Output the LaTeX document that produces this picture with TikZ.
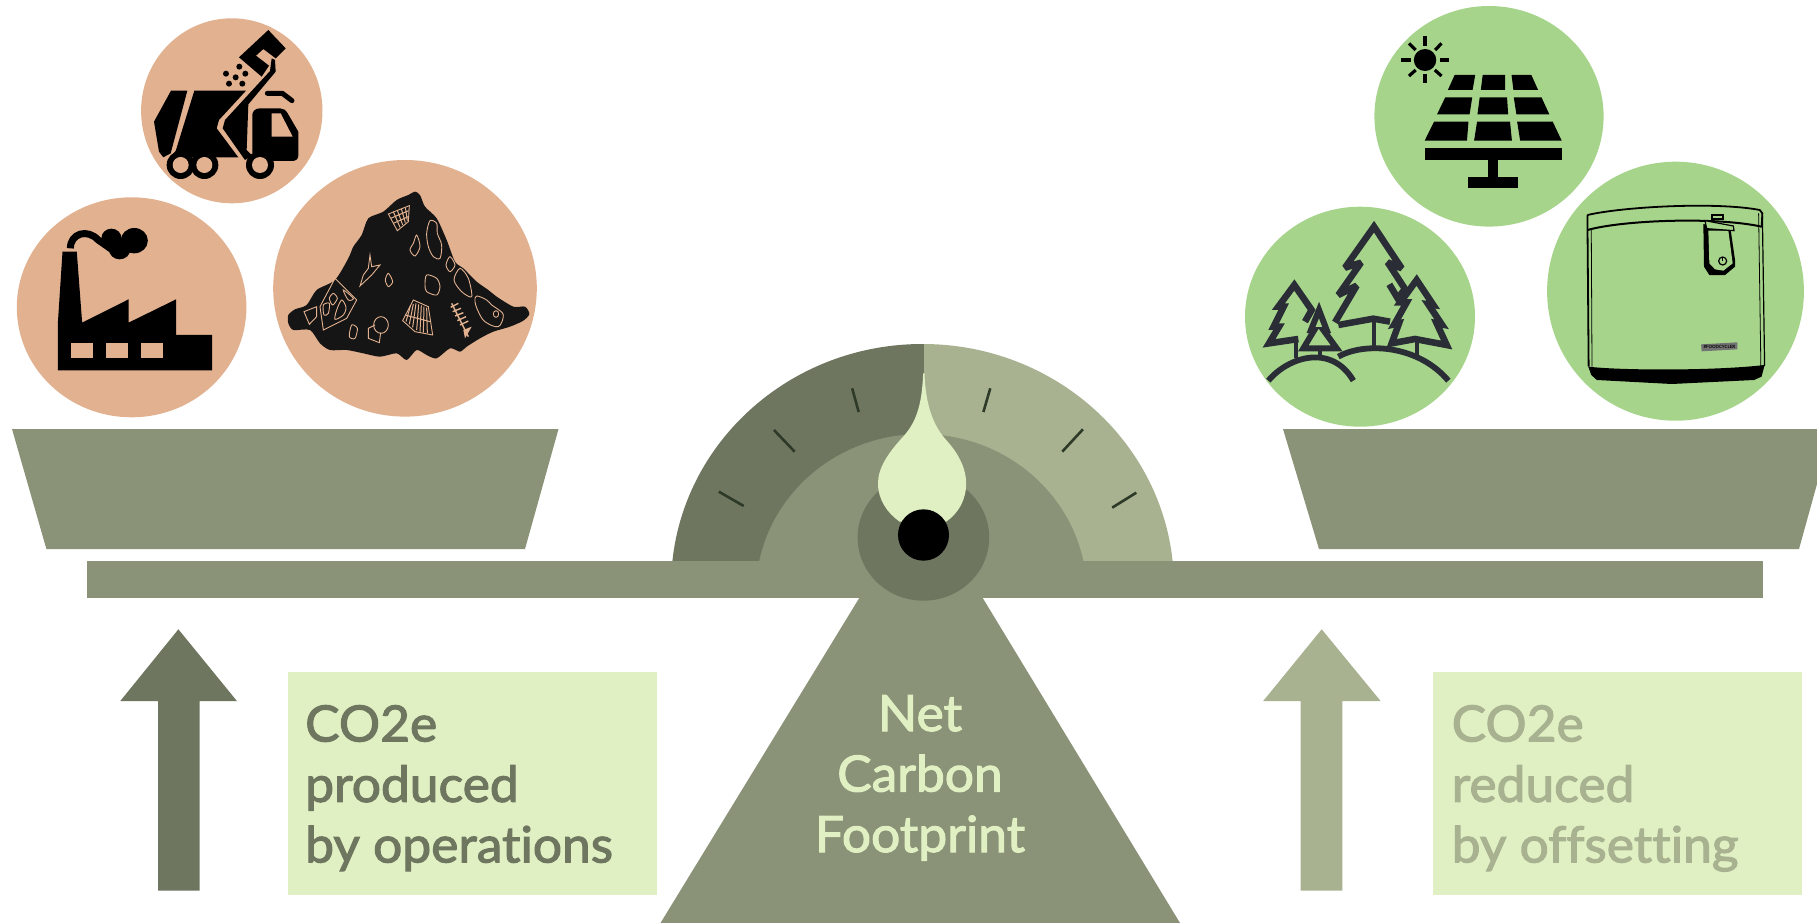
\documentclass[tikz,border=0pt]{standalone}
\usepackage{fontspec}
\newfontfamily\lab{Lato}[FakeBold=2.2,FakeStretch=1.03,Ligatures=NoCommon,Contextuals=NoAlternate]
\newfontfamily\brandfont{Lato Bold}
\definecolor{sage}{HTML}{8A9277}
\definecolor{sagedark}{HTML}{6E7660}
\definecolor{sagelight}{HTML}{A8B291}
\definecolor{pale}{HTML}{E1F0C3}
\definecolor{peach}{HTML}{E2B190}
\definecolor{leaf}{HTML}{A6D48B}
\definecolor{pine}{HTML}{2A2D36}
\definecolor{tickc}{HTML}{2E3A28}
\definecolor{heap}{HTML}{151515}
\tikzset{
  zoomone/.style={shift={(0,0)},x=.35714pt,y=-.33333pt},
  zoomtwo/.style={shift={(1230,0)},x=.37436pt,y=-.33333pt},
  zoomthree/.style={shift={(650,330)},x=.34439pt,y=-.33333pt},
  zoomtruck/.style={shift={(145,25)},x=.33333pt,y=-.33333pt},
  zoomtrees/.style={shift={(1255,215)},x=.33333pt,y=-.33333pt},
  zoomheap/.style={shift={(280,190)},x=.33333pt,y=-.33333pt},
  zoombin/.style={shift={(1590,200)},x=.33333pt,y=-.33333pt},
  bigtext/.style={font=\lab\fontsize{50}{60.5}\selectfont,inner sep=0pt},
  tree/.style={draw=pine,line width=6.6pt,miter limit=3,line join=miter},
  doodle/.style={draw=peach,line width=.9pt},
  hatch/.style={draw=peach,line width=1pt},
  ticky/.style={draw=tickc,line width=2.6pt},
  binline/.style={draw=black,line width=1.2pt},
  ray/.style={draw=black,line width=3.2pt}
}
\begin{document}
\begin{tikzpicture}[x=1pt,y=-1pt]
\useasboundingbox (0,0) rectangle (1817,923);
\fill[white] (0,0) rectangle (1817,923);

% ---- discs
\fill[peach] (231.8,110.8) ellipse [x radius=90.7,y radius=92.5];
\fill[peach] (131.6,307.3) ellipse [x radius=114.8,y radius=110];
\fill[peach] (405,288.3) ellipse [x radius=131.8,y radius=128.3];
\fill[leaf] (1489,116.3) ellipse [x radius=114.6,y radius=110.3];
\fill[leaf] (1360,316.7) ellipse [x radius=115,y radius=110];
\fill[leaf] (1675.5,291.2) ellipse [x radius=128.4,y radius=129.5];

% ---- pans and beam
\fill[sage] (12,429) -- (558.5,429) -- (525,549) -- (46.4,549) -- cycle;
\fill[sage] (1283,429) -- (1817,429) -- (1817,484) -- (1799,549) -- (1319,549) -- cycle;
\fill[sage] (87,561) rectangle (1763,598);
\fill[sage] (860.5,596) -- (981.5,596) -- (1180,923) -- (660.5,923) -- cycle;

% ---- gauge
\begin{scope}
\clip (600,300) rectangle (924,560.5);
\fill[sagedark] (922.5,585.8) ellipse [x radius=251.4,y radius=241.8];
\end{scope}
\begin{scope}
\clip (924,300) rectangle (1200,560.5);
\fill[sagelight] (922.5,585.8) ellipse [x radius=251.4,y radius=241.8];
\end{scope}
\begin{scope}
\clip (600,300) rectangle (1200,562);
\fill[sage] (921.3,593) ellipse [x radius=165.4,y radius=159];
\end{scope}
\begin{scope}[zoomthree]
\draw[ticky] (200,485) -- (272,528);
\draw[ticky] (360,300) -- (420,365);
\draw[ticky] (587,175) -- (606,246);
\draw[ticky] (988,175) -- (968,246);
\draw[ticky] (1257,298) -- (1197,365);
\draw[ticky] (1412,488) -- (1342,533);
\end{scope}
\fill[sagedark] (923.4,537.5) ellipse [x radius=65.8,y radius=63.2];
\begin{scope}[zoomthree]
\fill[pale] (797,130) .. controls (800,230) and (825,290) .. (860,330)
  .. controls (900,375) and (918,420) .. (918,460)
  .. controls (918,510) and (895,550) .. (860,575)
  -- (725,575) .. controls (690,550) and (662,510) .. (662,460)
  .. controls (662,415) and (690,370) .. (735,320)
  .. controls (770,280) and (790,230) .. (793,130) -- cycle;
\end{scope}
\fill[black] (923.5,535) ellipse [x radius=25.5,y radius=25.7];

% ---- arrows and boxes
\fill[sagedark] (178.4,629.3) -- (236.9,701) -- (199.5,701) -- (199.5,890.7) -- (158,890.7) -- (158,701) -- (120.3,701) -- cycle;
\fill[sagelight] (1321.7,629.3) -- (1380.6,701) -- (1342.3,701) -- (1342.3,890.7) -- (1300.7,890.7) -- (1300.7,701) -- (1263.2,701) -- cycle;
\fill[pale] (287.5,671.7) rectangle (657,895.3);
\fill[pale] (1432.5,671.7) rectangle (1802.3,895.3);
\node[bigtext,text=sagedark,align=left,anchor=north west] (producedlabel) at (305,705) {CO2e\\produced\\by operations};
\node[bigtext,text=sagelight,align=left,anchor=north west] (reducedlabel) at (1451.5,705) {CO2e\\reduced\\by offsetting};
\node[bigtext,text=pale,align=center,anchor=north] (netlabel) at (920,695) {Net\\Carbon\\Footprint};

% ---- factory
\begin{scope}[zoomone]
\fill[black] (162,1111) -- (162,970) -- (175,755) -- (215,755) -- (230,968) -- (360,898) -- (360,968) -- (493,898) -- (493,1005) -- (594,1005) -- (594,1111) -- cycle;
\fill[peach] (200,1028) rectangle (260,1075);
\fill[peach] (298,1028) rectangle (358,1075);
\fill[peach] (396,1028) rectangle (455,1075);
\draw[black,line width=7pt] (197,745) .. controls (197,700) and (245,685) .. (275,720) -- (315,750);
\fill[black] (376,722) ellipse [x radius=38,y radius=38];
\fill[black] (335,748) ellipse [x radius=30,y radius=30];
\fill[black] (312,714) ellipse [x radius=28,y radius=28];
\end{scope}

% ---- truck
\begin{scope}[zoomtruck]
\fill[black] (78,197) -- (127,197) -- (77,385) -- (55,397) -- (42,380) -- (27,290) -- cycle;
\fill[black] (148,197) -- (303,197) -- (222,285) -- (215,310) -- (280,397) -- (75,397) -- (92,378) -- cycle;
\fill[black] (282,97) -- (370,15) -- (422,70) -- (392,100) -- (355,72) -- (333,92) -- (372,122) -- (350,155) -- cycle;
\fill[black] (380,100) -- (390,105) -- (392,140) -- (310,238) -- (305,375) -- (322,392) -- (300,405) -- (233,310) -- (240,285) -- (375,138) -- cycle;
\fill[black] (322,270) .. controls (322,258) and (332,250) .. (345,250) -- (405,250) .. controls (415,250) and (422,255) .. (428,265) -- (460,320) -- (460,392) .. controls (460,402) and (452,408) .. (442,408) -- (370,408) -- (322,385) -- cycle;
\fill[peach] (380,265) -- (407,265) -- (443,335) -- (380,335) -- cycle;
\draw[black,line width=5pt,line cap=round] (367,205) -- (412,205) -- (441,227);
\foreach \px/\py in {243/146,283/125,301/146,272/157,252/176,292/176}
  \fill[black] (\px,\py) ellipse [x radius=9,y radius=9];
\foreach \wx in {107,178,345}{
  \fill[black] (\wx,420) ellipse [x radius=42,y radius=42];}
\foreach \wx in {107,178,345}{
  \fill[peach] (\wx,420) ellipse [x radius=24,y radius=24];}
\end{scope}

% ---- garbage heap
\begin{scope}[zoomheap]
\fill[heap] plot[smooth cycle,tension=.45] coordinates {(405,5) (420,15) (435,50) (470,85) (500,150) (525,215) (550,235) (590,275) (625,300) (650,320) (700,350) (735,350) (748,372) (730,392) (690,410) (640,425) (600,445) (560,470) (540,485) (510,475) (470,505) (440,495) (410,480) (380,510) (350,490) (300,500) (250,490) (200,480) (150,480) (120,460) (90,420) (40,420) (25,400) (25,375) (45,358) (80,345) (110,300) (165,270) (205,205) (220,170) (245,135) (265,85) (310,65) (350,30) (385,15)};
\draw[doodle] (325,72) -- (388,47) -- (385,95) -- (352,122) -- cycle;
\draw[hatch] (340,65) -- (360,112) (352,61) -- (368,105) (364,56) -- (376,98) (376,52) -- (382,92) (332,85) -- (386,62) (340,100) -- (385,80);
\draw[doodle] plot[smooth cycle] coordinates {(450,92) (470,100) (472,130) (485,165) (480,205) (460,200) (445,170) (440,130)};
\draw[doodle] plot[smooth cycle] coordinates {(410,135) (420,170) (405,198) (390,180) (400,160)};
\draw[doodle] plot[smooth cycle] coordinates {(510,200) (525,225) (510,245) (498,225)};
\draw[doodle] plot[smooth cycle] coordinates {(540,235) (565,265) (575,320) (545,305) (522,270)};
\draw[doodle] plot[smooth cycle] coordinates {(440,255) (470,265) (480,290) (470,315) (440,305) (435,285)};
\draw[doodle] plot[smooth cycle] coordinates {(325,250) (338,275) (325,290) (316,270)};
\draw[doodle] plot[smooth cycle,tension=.6] coordinates {(590,318) (620,330) (635,345) (650,355) (670,375) (655,410) (615,395) (595,365) (585,335)};
\draw[doodle] (648,372) ellipse [x radius=8,y radius=10];
\draw[doodle] (270,195) -- (275,230) -- (300,225) -- (275,255) -- (240,288) -- (250,255) -- (265,235) -- cycle;
\draw[doodle] (165,265) -- (230,330) -- (200,385) -- (130,420) -- (120,350) -- cycle;
\draw[doodle] plot[smooth cycle] coordinates {(160,310) (172,325) (158,345) (148,325)};
\draw[doodle] plot[smooth cycle] coordinates {(185,330) (198,352) (190,375) (165,388) (170,360)};
\draw[doodle] plot[smooth cycle] coordinates {(190,300) (220,325) (205,330)};
\draw[doodle] plot[smooth cycle] coordinates {(130,345) (148,340) (145,370) (132,375)};
\draw[doodle] (72,365) -- (110,350) -- (110,380) -- (88,403) -- cycle;
\draw[doodle] plot[smooth cycle] coordinates {(215,405) (232,415) (225,445) (208,440)};
\draw[doodle] (303,405) ellipse [x radius=22,y radius=25];
\draw[doodle] (265,415) -- (285,405) (265,415) -- (265,445) -- (298,458) -- (302,428);
\draw[doodle] (400,330) -- (445,350) -- (458,435) -- (405,425) -- (368,392) -- cycle;
\draw[hatch] (392,345) -- (378,395) (400,342) -- (388,403) (408,340) -- (398,412) (416,343) -- (410,420) (424,346) -- (420,425) (432,350) -- (430,428) (440,353) -- (442,430) (375,375) -- (450,395);
\draw[peach,line width=1.4pt] (515,340) -- (565,440)
  (512,352) -- (535,340) (518,365) -- (543,355) (525,378) -- (550,368) (532,392) -- (558,380) (540,405) -- (565,393);
\fill[peach] (550,420) -- (575,410) -- (555,445) -- cycle;
\end{scope}

% ---- solar panel
\begin{scope}[zoomtwo]
\fill[black] (600,225) -- (655,225) -- (648,270) -- (582,270) -- cycle;
\fill[black] (675,225) -- (735,225) -- (735,270) -- (670,270) -- cycle;
\fill[black] (752,225) -- (805,225) -- (823,270) -- (757,270) -- cycle;
\fill[black] (575,292) -- (647,292) -- (640,343) -- (553,343) -- cycle;
\fill[black] (667,292) -- (740,292) -- (743,343) -- (661,343) -- cycle;
\fill[black] (758,292) -- (832,292) -- (853,343) -- (765,343) -- cycle;
\fill[black] (545,365) -- (637,365) -- (633,422) -- (520,422) -- cycle;
\fill[black] (660,365) -- (748,365) -- (753,422) -- (652,422) -- cycle;
\fill[black] (767,365) -- (862,365) -- (886,422) -- (775,422) -- cycle;
\fill[black] (520,445) rectangle (886,479);
\fill[black] (688,479) rectangle (717,532);
\fill[black] (637,532) rectangle (769,563);
\fill[black] (521,180) ellipse [x radius=30,y radius=33];
\draw[ray] (521,108) -- (521,137);
\draw[ray] (521,222) -- (521,250);
\draw[ray] (457,180) -- (484,180);
\draw[ray] (561,180) -- (585,180);
\draw[ray] (565,130) -- (548,150);
\draw[ray] (478,130) -- (496,150);
\draw[ray] (565,228) -- (547,210);
\draw[ray] (478,228) -- (496,210);
\end{scope}

% ---- trees
\begin{scope}[zoomtrees]
\draw[tree] (240,322) -- (305,212) -- (250,240) -- (318,143) -- (270,158) -- (357,35) -- (440,160) -- (398,142) -- (450,222) -- (428,250) -- (403,208);
\draw[tree,line width=6.5pt] (250,330) -- (355,311) -- (405,320);
\draw[tree,line width=4.2pt] (357,320) -- (357,392);
\draw[tree] (410,385) -- (432,325) -- (418,328) -- (455,262) -- (436,262) -- (485,195) -- (535,270) -- (520,268) -- (560,328) -- (545,325) -- (575,390) -- (480,372) -- cycle;
\draw[tree,line width=4.2pt] (485,375) -- (485,420);
\draw[tree] (130,372) -- (42,385) -- (72,335) -- (56,335) -- (86,275) -- (70,275) -- (118,210) -- (170,285) -- (150,320);
\draw[tree,line width=4.2pt] (122,375) -- (122,430);
\draw[tree,line width=6pt] (145,400) -- (178,345) -- (168,345) -- (192,285) -- (215,345) -- (205,345) -- (245,400) -- cycle;
\draw[tree,line width=4.2pt] (195,400) -- (195,425);
\draw[tree,line width=5.8pt] (40,497) .. controls (100,425) and (230,385) .. (295,497);
\draw[tree,line width=5.8pt] (250,425) .. controls (330,380) and (490,390) .. (580,497);
\end{scope}

% ---- compost bin
\begin{scope}[zoomtwo]
\fill[black] (957,1100) .. controls (1050,1112) and (1300,1112) .. (1428,1095) -- (1420,1130) -- (1400,1140) -- (1180,1152) -- (980,1140) -- (965,1125) -- cycle;
\draw[binline,line width=1.8pt] (955,645) .. controls (1050,620) and (1300,605) .. (1415,630) -- (1422,640) -- (1420,682);
\draw[binline,line width=2pt] (955,690) .. controls (1050,660) and (1300,650) .. (1420,680);
\draw[binline,line width=1.8pt] (955,645) -- (955,690) -- (958,1100);
\draw[binline,line width=.8pt] (965,690) -- (967,1100);
\draw[binline] (1422,640) -- (1428,1098);
\draw[binline,line width=.8pt] (1412,640) -- (1418,1098);
\end{scope}
\begin{scope}[zoombin]
\fill[black] (340,72) -- (342,200) -- (358,225) -- (405,225) -- (435,200) -- (435,180) -- (422,90) -- cycle;
\fill[leaf] (355,92) -- (358,190) -- (375,208) -- (400,212) -- (428,190) -- (415,92) -- cycle;
\fill[black] (362,42) rectangle (402,60);
\fill[leaf] (370,48) rectangle (396,54);
\fill[leaf] (345,62) -- (430,78) -- (432,92) -- (350,86) -- cycle;
\draw[binline] (345,62) -- (430,78) -- (432,92) -- (350,86) -- cycle;
\draw[binline] (398,183) ellipse [x radius=12,y radius=12];
\draw[binline] (398,172) -- (398,184);
\fill[black!55] (333,433) -- (442,427) -- (442,448) -- (335,454) -- cycle;
\node[font=\brandfont\fontsize{4.4}{5}\selectfont,text=black,inner sep=0pt] (binbrand) at (388,441) {\#FOODCYCLER};
\end{scope}
\end{tikzpicture}
\end{document}
